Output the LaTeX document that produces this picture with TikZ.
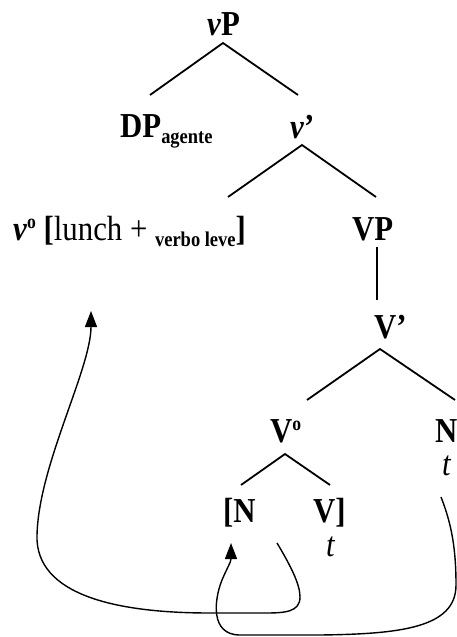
\documentclass[tikz,border=0pt]{standalone}
\usepackage{fontspec}
\setmainfont{Liberation Serif}[FakeStretch=0.88]
\usetikzlibrary{arrows.meta}

\newcommand{\lowtext}[1]{\raisebox{-6pt}{\fontsize{21}{22}\selectfont\bfseries #1}}
\newcommand{\highdeg}{\raisebox{12pt}{\fontsize{20}{20}\selectfont\bfseries o}}

\begin{document}
\begin{tikzpicture}[x=1pt,y=-1pt,
    lbl/.style={anchor=base west, inner sep=0pt, font=\fontsize{35}{40}\selectfont},
    branch/.style={line width=1.8pt},
    move/.style={line width=1.4pt, -{Triangle[length=16pt,width=12pt]}}]
\useasboundingbox (0,0) rectangle (457,637);

% labels of the tree
\node[lbl] (vP) at (207,35) {\textbf{\textit{v}P}};
\node[lbl] (DP) at (120,137) {\textbf{DP}\lowtext{agente}};
\node[lbl] (vbar) at (290,138) {\textbf{\textit{v}’}};
\node[lbl] (vo) at (13,240) {\textbf{\textit{v}}\highdeg{} \textbf{[}lunch + \lowtext{verbo leve}\textbf{]}};
\node[lbl] (VP) at (352,240) {\textbf{VP}};
\node[lbl] (Vbar) at (374,338) {\textbf{V’}};
\node[lbl] (Vo) at (270,442) {\textbf{V}\highdeg};
\node[lbl] (N) at (435,442) {\textbf{N}};
\node[lbl] (tN) at (442,475) {\textit{t}};
\node[lbl] (Nin) at (223,522) {\textbf{[N}};
\node[lbl] (Vin) at (313,522) {\textbf{V]}};
\node[lbl] (tV) at (326,556) {\textit{t}};

% branch points
\coordinate (vP-b) at (223,43);
\coordinate (DP-t) at (150,95);
\coordinate (vbar-t) at (298,95);
\coordinate (vbar-b) at (302,145);
\coordinate (vo-t) at (228,197);
\coordinate (VP-t) at (376,197);
\coordinate (VP-b) at (377,247);
\coordinate (Vbar-t) at (377,300);
\coordinate (Vbar-b) at (380,349);
\coordinate (Vo-t) at (307,400);
\coordinate (N-t) at (455,400);
\coordinate (Vo-b) at (285,454);
\coordinate (Nin-t) at (241,485);
\coordinate (Vin-t) at (330,485);

\draw[branch] (DP-t) -- (vP-b) -- (vbar-t);
\draw[branch] (vo-t) -- (vbar-b) -- (VP-t);
\draw[branch] (VP-b) -- (Vbar-t);
\draw[branch] (Vo-t) -- (Vbar-b) -- (N-t);
\draw[branch] (Nin-t) -- (Vo-b) -- (Vin-t);

% movement arrows
\coordinate (m1) at (277,543);
\coordinate (m1-end) at (91,311);
\coordinate (m2) at (441,497);
\coordinate (m2-end) at (231,543);

\draw[move] (m1) .. controls (292,568) and (300,585) .. (300,597)
    .. controls (300,612) and (285,613) .. (265,613) -- (210,613)
    .. controls (130,613) and (40,600) .. (37,540)
    .. controls (36,470) and (91,370) .. (m1-end);
\draw[move] (m2) .. controls (452,525) and (456,550) .. (456,585)
    .. controls (456,628) and (400,634) .. (320,635) -- (240,635)
    .. controls (210,635) and (214,600) .. (222,580)
    .. controls (228,566) and (231,562) .. (m2-end);
\end{tikzpicture}
\end{document}
